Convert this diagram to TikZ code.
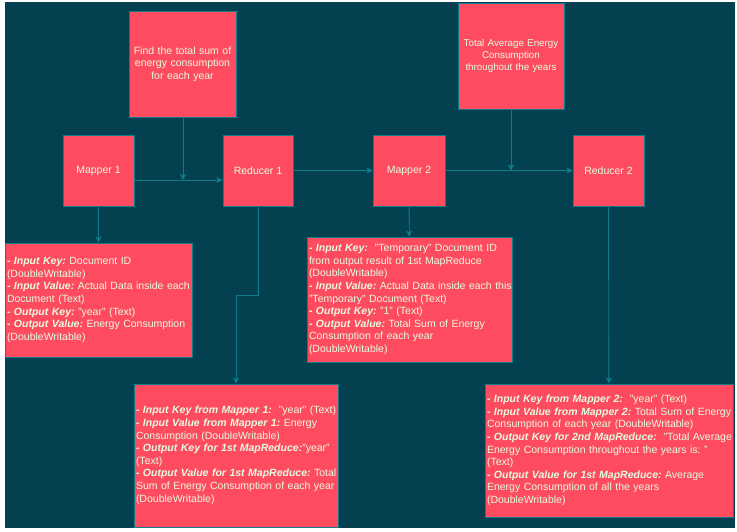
\documentclass[tikz,border=0pt]{standalone}
\usepackage{fontspec}
\setmainfont{Liberation Sans}
\usetikzlibrary{arrows.meta}
\definecolor{bgc}{HTML}{034050}
\definecolor{boxc}{HTML}{FF4B5F}
\definecolor{linec}{HTML}{0E7C8B}
\definecolor{txtc}{HTML}{E4FDE1}
\newcommand\kw[1]{\textbf{\itshape #1}}
\newcommand\txtlines[1]{\begin{tabular}{@{}l@{}}#1\end{tabular}}
\frenchspacing
\begin{document}
\begin{tikzpicture}[x=1pt,y=-1pt,
  box/.style={draw=linec, line width=0.9pt, fill=boxc, text=txtc, inner sep=0pt,
    font=\fontsize{10.5}{12.6}\selectfont, align=center},
  detail/.style={box, inner xsep=2pt, align=left},
  arr/.style={draw=linec, line width=0.9pt, -{Stealth[length=6pt,width=6pt,inset=1.5pt]}}]
\useasboundingbox (0,0) rectangle (737,532);
\fill[white] (0,0) rectangle (737,532);
\fill[bgc] (5,2) rectangle (735,528);
% top boxes
\node[box, minimum width=107pt, minimum height=106pt, text width=100pt] (find) at (182.5,64)
  {Find the total sum of\\energy consumption\\for each year};
\node[box, minimum width=106pt, minimum height=106pt, text width=100pt,
  font=\fontsize{9.8}{11.7}\selectfont] (tavg) at (511,56)
  {Total Average Energy\\Consumption\\throughout the years};
% main row
\node[box, minimum width=71pt, minimum height=71pt] (m1) at (98.5,170.5) {Mapper 1};
\node[box, minimum width=70pt, minimum height=71pt] (r1) at (258,170.5) {Reducer 1};
\node[box, minimum width=72pt, minimum height=71pt] (m2) at (409,170.5) {Mapper 2};
\node[box, minimum width=71pt, minimum height=71pt] (r2) at (608.5,170.5) {Reducer 2};
% detail boxes
\node[detail, minimum width=187pt, minimum height=114pt, text width=183pt] (m1d) at (98.5,300)
  {\txtlines{\kw{- Input Key:} Document ID\\
   (DoubleWritable)\\
   \kw{- Input Value:} Actual Data inside each\\
   Document (Text)\\
   \kw{- Output Key:} "year" (Text)\\
   \kw{- Output Value:} Energy Consumption\\
   (DoubleWritable)}};
\node[detail, minimum width=205pt, minimum height=125pt, text width=201pt] (m2d) at (409.5,299.5)
  {\txtlines{\kw{- Input Key:}~ "Temporary" Document ID\\
   from output result of 1st MapReduce\\
   (DoubleWritable)\\
   \kw{- Input Value:} Actual Data inside each this\\
   "Temporary" Document (Text)\\
   \kw{- Output Key:} "1" (Text)\\
   \kw{- Output Value:} Total Sum of Energy\\
   Consumption of each year\\
   (DoubleWritable)}};
\node[detail, minimum width=204pt, minimum height=143pt, text width=200pt] (r1d) at (236,455.5)
  {\txtlines{\kw{- Input Key from Mapper 1:}~ "year" (Text)\\
   \kw{- Input Value from Mapper 1:} Energy\\
   Consumption (DoubleWritable)\\
   \kw{- Output Key for 1st MapReduce:}"year"\\
   (Text)\\
   \kw{- Output Value for 1st MapReduce:} Total\\
   Sum of Energy Consumption of each year\\
   (DoubleWritable)}};
\node[detail, minimum width=248pt, minimum height=133pt, text width=244pt] (r2d) at (609,450.5)
  {\txtlines{\kw{- Input Key from Mapper 2:}~ "year" (Text)\\
   \kw{- Input Value from Mapper 2:} Total Sum of Energy\\
   Consumption of each year (DoubleWritable)\\
   \kw{- Output Key for 2nd MapReduce:}~ "Total Average\\
   Energy Consumption throughout the years is: "\\
   (Text)\\
   \kw{- Output Value for 1st MapReduce:} Average\\
   Energy Consumption of all the years\\
   (DoubleWritable)}};
% connectors
\coordinate (j1) at (183,180);
\coordinate (j2) at (511,170.5);
\coordinate (j3) at (236,295);
\draw[arr] (m1.east |- j1) -- (r1.west |- j1);
\draw[arr] (find.south -| j1) -- (j1);
\draw[arr] (r1) -- (m2);
\draw[arr] (m2) -- (r2);
\draw[arr] (tavg.south) -- (j2);
\draw[arr] (m1) -- (m1d);
\draw[arr] (m2) -- (m2d);
\draw[arr] (r2) -- (r2d);
\draw[arr] (r1.south) |- (j3) -- (r1d.north);
\end{tikzpicture}
\end{document}
